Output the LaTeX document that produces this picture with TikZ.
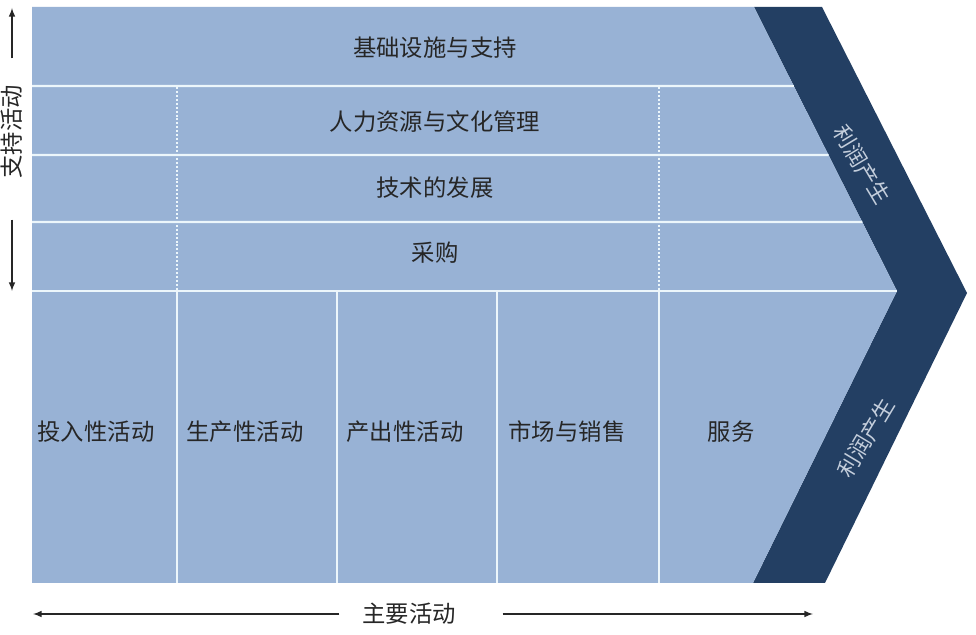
\documentclass[tikz,border=0pt]{standalone}
\usepackage{fontspec}
\setmainfont{Noto Sans CJK SC}
\usetikzlibrary{arrows,positioning,calc}

\definecolor{cellblue}{RGB}{152,178,213}
\definecolor{navy}{RGB}{35,63,99}
\definecolor{rulewhite}{RGB}{236,246,251}
\definecolor{labelgray}{RGB}{38,38,38}
\definecolor{profitgray}{RGB}{196,206,220}

\tikzset{
  cell/.style={text=labelgray, font=\fontsize{16.6}{18}\selectfont},
  profit/.style={text=profitgray, font=\fontsize{15.5}{17}\selectfont},
  sep/.style={draw=rulewhite, line width=1.6pt},
  dotsep/.style={draw=rulewhite, line width=1.6pt, dash pattern=on 1.4pt off 1.4pt},
  arr/.style={-latex, line width=1.1pt, draw=black!85},
}

\begin{document}
\begin{tikzpicture}[x=0.025cm,y=-0.025cm]
\useasboundingbox (0,0) rectangle (976,635);

% chevron band
\coordinate (ctl) at (754,7);
\coordinate (ctr) at (822,7);
\coordinate (ctip) at (967,293);
\coordinate (cbr) at (825,583);
\coordinate (cbl) at (753,583);
\coordinate (cnotch) at (897,291);
\fill[navy] (ctl) -- (ctr) -- (ctip) -- (cbr) -- (cbl) -- (cnotch) -- cycle;
\fill[cellblue] (32,7) -- (ctl) -- (cnotch) -- (cbl) -- (32,583) -- cycle;

% rows of the support part
\foreach \y in {86,155,222}
  \draw[sep] (32,\y) -- ($(ctl)!{(\y-7)/284}!(cnotch)$);
\draw[sep] (32,291) -- (cnotch);
\foreach \x in {177,659}
  \draw[dotsep] (\x,87) -- (\x,290);
\foreach \x in {177,337,497,659}
  \draw[sep] (\x,291) -- (\x,583);

% support activities
\node[cell] (infra) at (435,48) {基础设施与支持};
\node[cell] (hrm) at (435,122) {人力资源与文化管理};
\node[cell] (tech) at (435,188) {技术的发展};
\node[cell] (buy) at (435,253) {采购};

% primary activities
\node[cell] (inlog) at (96,432) {投入性活动};
\node[cell] (ops) at (245,432) {生产性活动};
\node[cell] (outlog) at (405,432) {产出性活动};
\node[cell] (mkt) at (567,432) {市场与销售};
\node[cell] (svc) at (731,432) {服务};

% margin
\node[profit, rotate=-59] (mup) at (862,165) {利润产生};
\node[profit, rotate=59] (mdown) at (866,438) {利润产生};

% side and bottom labels
\node[cell, rotate=90] (sup) at (12,132) {支持活动};
\coordinate (suptop) at (12,8);
\coordinate (supbot) at (12,291);
\draw[arr, shorten <=0.55cm] (sup.east) -- (suptop);
\draw[arr, shorten <=0.9cm] (sup.west) -- (supbot);

\node[cell] (main) at (409,614) {主要活动};
\coordinate (mainleft) at (33,617);
\coordinate (mainright) at (813,617);
\draw[arr, shorten <=0.45cm] (main.west) -- (main.west -| mainleft);
\draw[arr, shorten <=1.05cm] (main.east) -- (main.east -| mainright);
\end{tikzpicture}
\end{document}
